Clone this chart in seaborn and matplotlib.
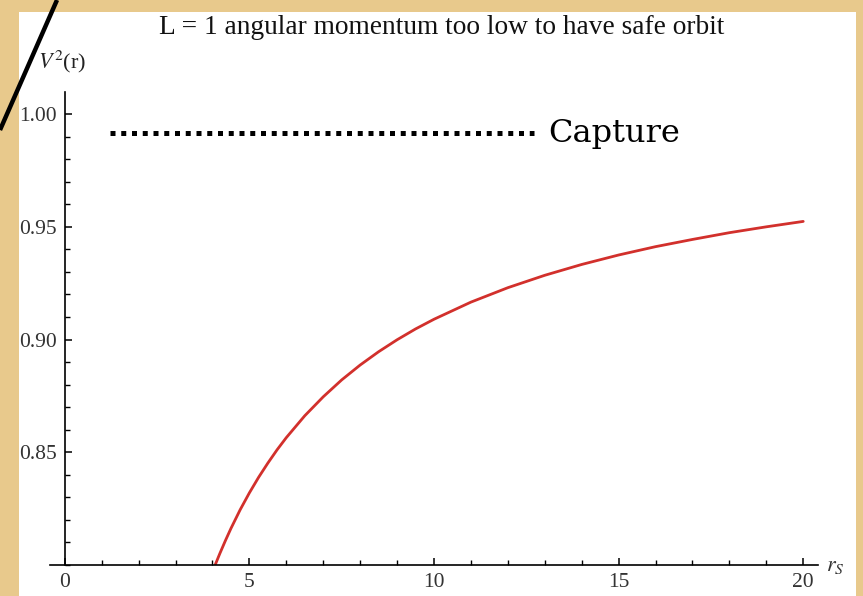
import matplotlib
matplotlib.use("Agg")
import matplotlib.pyplot as plt
from matplotlib.patches import Rectangle
from matplotlib.lines import Line2D
from matplotlib.ticker import MultipleLocator, FixedLocator
import seaborn as sns
import pandas as pd

# Effective potential V^2(r) for L = 1, r in units of r_s
r_vals = [4.08, 4.2, 4.35, 4.5, 4.75, 5.0, 5.25, 5.5, 5.75, 6.0, 6.5, 7.0, 7.5,
          8.0, 8.5, 9.0, 9.5, 10.0, 11.0, 12.0, 13.0, 14.0, 15.0, 16.0, 17.0,
          18.0, 19.0, 20.0]
v2_vals = [0.8003, 0.8051, 0.8108, 0.8162, 0.8245, 0.832, 0.8389, 0.8452, 0.8511,
           0.8565, 0.8662, 0.8746, 0.8821, 0.8887, 0.8946, 0.8999, 0.9047, 0.909,
           0.9166, 0.9230, 0.9285, 0.9333, 0.9375, 0.9412, 0.9444, 0.9474,
           0.9500, 0.9524]

x_ticks = [0, 5, 10, 15, 20]
x_tick_labels = ["0", "5", "10", "15", "20"]
y_ticks = [0.85, 0.90, 0.95, 1.00]
y_tick_labels = ["0.85", "0.90", "0.95", "1.00"]

capture_level = 0.9916
capture_span = [1.22, 12.7]
capture_label = "Capture"

title_text = "L = 1 angular momentum too low to have safe orbit"

sns.set_theme(style="white")
plt.rcParams["font.family"] = ["Liberation Serif", "DejaVu Serif"]
plt.rcParams["mathtext.fontset"] = "stix"

W, H = 863, 596
fig = plt.figure(figsize=(W / 100, H / 100), dpi=100)
fig.patch.set_facecolor("#E8C98C")

# white page
fig.patches.append(Rectangle((19 / W, 0), (856 - 19) / W, (H - 12) / H,
                             transform=fig.transFigure, facecolor="white",
                             edgecolor="none", zorder=-10))

ax = fig.add_axes([50 / W, (H - 565) / H, (818 - 50) / W, (565 - 92) / H])
ax.set_facecolor("none")
ax.set_zorder(1)

df = pd.DataFrame({"r": r_vals, "V2": v2_vals})
sns.lineplot(data=df, x="r", y="V2", ax=ax, color="#D2302C", linewidth=2.0,
             sort=True, estimator=None)

ax.set_xlim(-0.4, 20.4)
ax.set_ylim(0.80, 1.0098)

for s in ["top", "right"]:
    ax.spines[s].set_visible(False)
ax.spines["left"].set_position(("data", 0))
for s in ["left", "bottom"]:
    ax.spines[s].set_color("black")
    ax.spines[s].set_linewidth(1.2)

ax.xaxis.set_major_locator(FixedLocator(x_ticks))
ax.set_xticklabels(x_tick_labels)
ax.xaxis.set_minor_locator(MultipleLocator(1))
ax.yaxis.set_major_locator(FixedLocator(y_ticks))
ax.set_yticklabels(y_tick_labels)
ax.yaxis.set_minor_locator(MultipleLocator(0.01))

ax.tick_params(axis="both", which="major", direction="in", length=5, width=1.1,
               color="black", labelsize=15.5, labelcolor="#333333", pad=6)
ax.tick_params(axis="both", which="minor", direction="in", length=3.5, width=1.0,
               color="black")
ax.tick_params(axis="x", which="both", bottom=True)
ax.tick_params(axis="y", which="both", left=True)
ax.set_xlabel("")
ax.set_ylabel("")

# capture level
ax.plot(capture_span, [capture_level, capture_level], color="black",
        linewidth=3.6, linestyle=(0, (1, 1.15)), dash_capstyle="butt")
ax.text(capture_span[1] + 0.4, capture_level, capture_label, fontsize=23,
        family=["DejaVu Serif"], va="center", ha="left", color="black")

# axis labels, Mathematica style
fig.text(38 / W, 1 - 62 / H, r"$V^{2}$(r)", fontsize=16, va="center", ha="left",
         color="#222222")
fig.text(826 / W, 1 - 567 / H, r"$r_{S}$", fontsize=16, va="center", ha="left",
         color="#333333")

fig.text(442 / W, 1 - 27 / H, title_text, fontsize=19.7, ha="center", va="center",
         color="#111111")

# decorative slash across the corner
fig.add_artist(Line2D([0, 57 / W], [1 - 130 / H, 1.0], transform=fig.transFigure,
                      color="black", linewidth=3.2, solid_capstyle="butt"))

fig.savefig("out.png", dpi=100, facecolor=fig.get_facecolor())
